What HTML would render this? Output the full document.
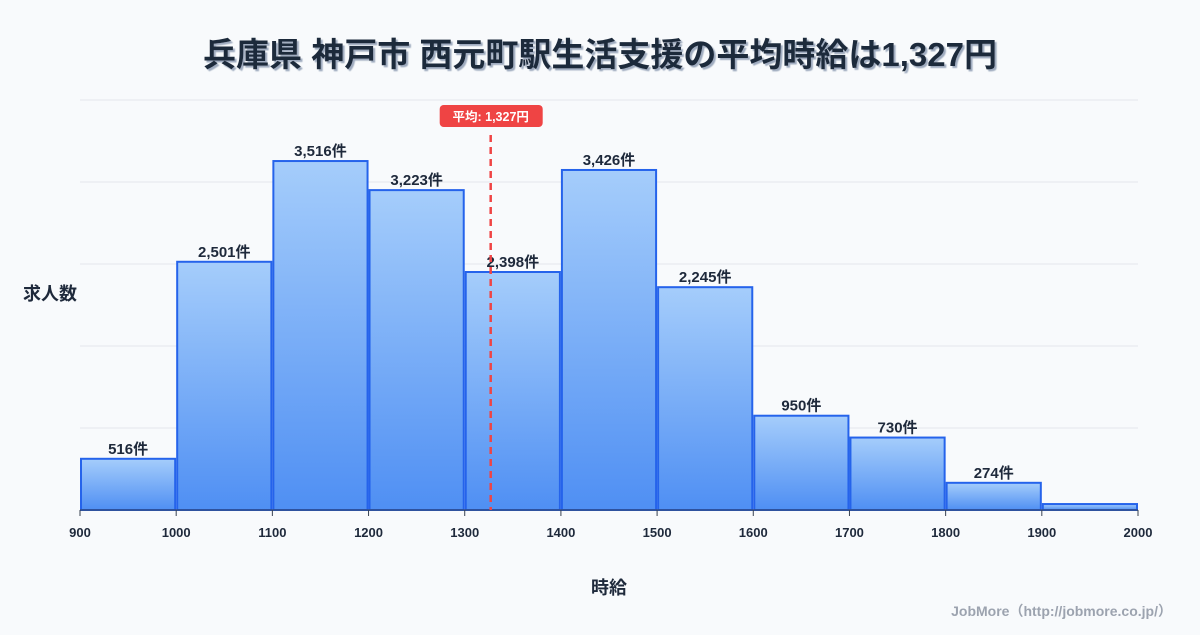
<!DOCTYPE html>
<html><head><meta charset="utf-8"><style>
body{margin:0;background:#f8fafc;width:1200px;height:630px;overflow:hidden;font-family:"Liberation Sans","Noto Sans CJK JP",sans-serif;}
svg text{font-family:"Liberation Sans","Noto Sans CJK JP",sans-serif;}
</style></head><body>
<svg width="1200" height="630" xmlns="http://www.w3.org/2000/svg">
<defs>
<linearGradient id="g" x1="0" y1="0" x2="0" y2="1"><stop offset="0" stop-color="#a5cdfb"/><stop offset="1" stop-color="#4f8ff3"/></linearGradient>
<filter id="sh"><feDropShadow dx="2" dy="2" stdDeviation="0.5" flood-color="#94a3b8" flood-opacity="0.9"/></filter>
</defs>
<text x="600" y="66" text-anchor="middle" font-size="33" font-weight="bold" fill="#1e293b" filter="url(#sh)">兵庫県 神戸市 西元町駅生活支援の平均時給は1,327円</text>
<g id="grid"></g><g id="bars"></g><g id="xt"></g>
<text x="50" y="300" text-anchor="middle" font-size="18" font-weight="bold" fill="#1e293b">求人数</text>
<text x="609" y="594" text-anchor="middle" font-size="18" font-weight="bold" fill="#1e293b">時給</text>
<text x="1172" y="616" text-anchor="end" font-size="14" font-weight="bold" fill="#9ca3af">JobMore（http://jobmore.co.jp/）</text>
<g id="avg"></g>
</svg>
<script>
const binStarts=[900,1000,1100,1200,1300,1400,1500,1600,1700,1800,1900];
const counts=[516,2501,3516,3223,2398,3426,2245,950,730,274,60];
const labels=["516件","2,501件","3,516件","3,223件","2,398件","3,426件","2,245件","950件","730件","274件",""];
const xTicks=[900,1000,1100,1200,1300,1400,1500,1600,1700,1800,1900,2000];
const avgValue=1327;const avgLabel="平均: 1,327円";
const NS="http://www.w3.org/2000/svg";
const X0=80,X1=1138,Y0=510,YT=100,XMIN=900,XMAX=2000,YMAX=4131;
const x=v=>X0+(v-XMIN)/(XMAX-XMIN)*(X1-X0);
const y=v=>Y0-v/YMAX*(Y0-YT);
function mk(t,a,p){const e=document.createElementNS(NS,t);for(const k in a)e.setAttribute(k,a[k]);document.getElementById(p).appendChild(e);return e;}
for(let i=0;i<=5;i++){const gy=Y0-i*(Y0-YT)/5;
const l=mk('line',{x1:X0,x2:X1,y1:gy,y2:gy,stroke:'#e5e7eb','stroke-width':1},'grid');

}
binStarts.forEach((b,i)=>{const xa=x(b)+1,xb=x(b+100)-1,yt=y(counts[i]);
const r=mk('rect',{x:xa,y:yt,width:xb-xa,height:Y0-yt,fill:'url(#g)',stroke:'#2563eb','stroke-width':2},'bars');


if(labels[i]){const t=mk('text',{x:(xa+xb)/2,y:yt-5,'text-anchor':'middle','font-size':15,'font-weight':'bold',fill:'#1e293b'},'bars');t.textContent=labels[i];

}});
mk('line',{x1:X0,x2:X1,y1:Y0,y2:Y0,stroke:'#374151','stroke-width':1},'xt');
xTicks.forEach(v=>{mk('line',{x1:x(v),x2:x(v),y1:Y0,y2:Y0+6,stroke:'#374151'},'xt');
const t=mk('text',{x:x(v),y:537,'text-anchor':'middle','font-size':13,'font-weight':'bold',fill:'#1e293b'},'xt');t.textContent=v;

});
const ax=x(avgValue);
const al=mk('line',{x1:ax,x2:ax,y1:135,y2:Y0,stroke:'#ef4444','stroke-width':2.5,'stroke-dasharray':'7,5'},'avg');


const ab=mk('rect',{x:ax-51,y:105,width:103,height:22,rx:4,fill:'#ef4444'},'avg');


const at=mk('text',{x:ax,y:121,'text-anchor':'middle','font-size':12.5,'font-weight':'bold',fill:'#fff'},'avg');at.textContent=avgLabel;


</script>
</body></html>
